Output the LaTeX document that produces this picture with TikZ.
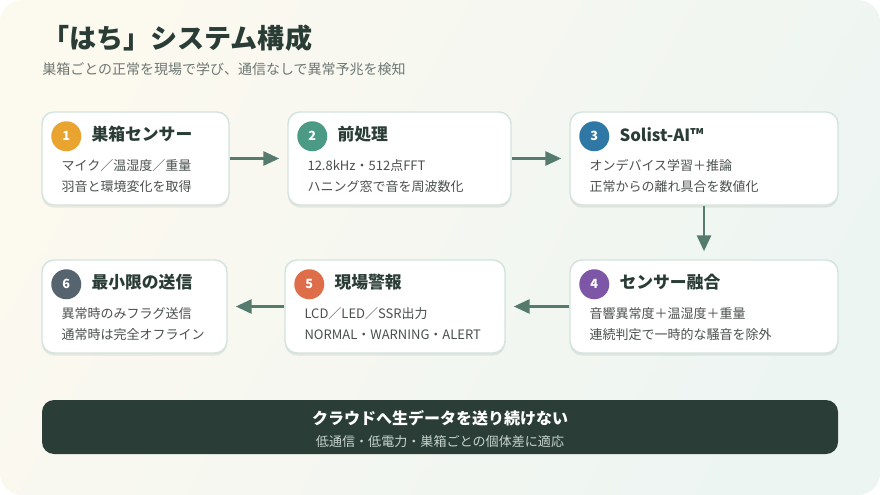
\documentclass[tikz,border=0pt]{standalone}
\usepackage{fontspec}
\setmainfont{Noto Sans CJK JP}
\usetikzlibrary{calc,shadows,arrows.meta}
\definecolor{bgA}{HTML}{FCF9EF}
\definecolor{bgB}{HTML}{EDF5F2}
\definecolor{cardline}{HTML}{D3E3DD}
\definecolor{titlecol}{HTML}{2A3C36}
\definecolor{subcol}{HTML}{6E7773}
\definecolor{bodycol}{HTML}{4A504D}
\definecolor{arrcol}{HTML}{557A6E}
\definecolor{bannercol}{HTML}{2A3D37}
\definecolor{bannersub}{HTML}{C8D5CF}
\definecolor{cA}{HTML}{E8A42E}
\definecolor{cB}{HTML}{4A9A86}
\definecolor{cC}{HTML}{2F78A6}
\definecolor{cD}{HTML}{7D56A8}
\definecolor{cE}{HTML}{DE6D4A}
\definecolor{cF}{HTML}{56646F}
\tikzset{
  card/.style={draw=cardline, line width=1.1pt, fill=white, rounded corners=9pt, inner sep=0pt,
    drop shadow={shadow xshift=0pt, shadow yshift=-2pt, opacity=0.07, fill=black}},
  numdot/.style={circle, inner sep=0pt, minimum size=22.5pt, text=white, font=\bfseries\fontsize{9.5pt}{10pt}\selectfont},
  head/.style={anchor=west, inner sep=0pt, text=titlecol, font=\bfseries\fontsize{12.6pt}{14pt}\selectfont},
  body/.style={anchor=west, inner sep=0pt, text=bodycol, font=\fontsize{9.75pt}{11pt}\selectfont},
  arr/.style={draw=arrcol, line width=2.2pt, -{Triangle[length=12pt,width=10.5pt]}, shorten >=6pt}
}
\begin{document}
\begin{tikzpicture}[x=0.75pt,y=-0.75pt]
\useasboundingbox (0,0) rectangle (880,495);
\shade[rounded corners=16.5pt, left color=bgA, right color=bgB, shading angle=60] (0,0) rectangle (880,495);

\node[anchor=west, inner sep=0pt, text=titlecol, font=\bfseries\fontsize{20.3pt}{22pt}\selectfont] (title) at (42,38) {「はち」システム構成};
\node[anchor=west, inner sep=0pt, text=subcol, font=\fontsize{10.5pt}{12pt}\selectfont] (subtitle) at (42,69) {巣箱ごとの正常を現場で学び、通信なしで異常予兆を検知};

% cards
\node[card, minimum width=140.25pt, minimum height=69.75pt] (b1) at (135.5,158.5) {};
\node[card, minimum width=167.25pt, minimum height=69.75pt] (b2) at (399.5,158.5) {};
\node[card, minimum width=201pt, minimum height=69.75pt] (b3) at (704,158.5) {};
\node[card, minimum width=201pt, minimum height=69.75pt] (b4) at (704,306.5) {};
\node[card, minimum width=165pt, minimum height=69.75pt] (b5) at (395,306.5) {};
\node[card, minimum width=138.75pt, minimum height=69.75pt] (b6) at (134.5,306.5) {};

% number dots
\node[numdot, fill=cA] (n1) at ($(b1.north west)+(25,25)$) {1};
\node[numdot, fill=cB] (n2) at ($(b2.north west)+(25,25)$) {2};
\node[numdot, fill=cC] (n3) at ($(b3.north west)+(25,25)$) {3};
\node[numdot, fill=cD] (n4) at ($(b4.north west)+(25,25)$) {4};
\node[numdot, fill=cE] (n5) at ($(b5.north west)+(25,25)$) {5};
\node[numdot, fill=cF] (n6) at ($(b6.north west)+(25,25)$) {6};

% headings
\node[head] (h1) at ($(b1.north west)+(50,23)$) {巣箱センサー};
\node[head] (h2) at ($(b2.north west)+(50,23)$) {前処理};
\node[head] (h3) at ($(b3.north west)+(50,23)$) {Solist-AI™};
\node[head] (h4) at ($(b4.north west)+(50,23)$) {センサー融合};
\node[head] (h5) at ($(b5.north west)+(50,23)$) {現場警報};
\node[head] (h6) at ($(b6.north west)+(50,23)$) {最小限の送信};

% body lines
\node[body] (t1a) at ($(b1.north west)+(20,54)$) {マイク／温湿度／重量};
\node[body] (t1b) at ($(b1.north west)+(20,75)$) {羽音と環境変化を取得};
\node[body] (t2a) at ($(b2.north west)+(20,54)$) {12.8kHz・512点FFT};
\node[body] (t2b) at ($(b2.north west)+(20,75)$) {ハニング窓で音を周波数化};
\node[body] (t3a) at ($(b3.north west)+(20,54)$) {オンデバイス学習＋推論};
\node[body] (t3b) at ($(b3.north west)+(20,75)$) {正常からの離れ具合を数値化};
\node[body] (t4a) at ($(b4.north west)+(20,54)$) {音響異常度＋温湿度＋重量};
\node[body] (t4b) at ($(b4.north west)+(20,75)$) {連続判定で一時的な騒音を除外};
\node[body] (t5a) at ($(b5.north west)+(20,54)$) {LCD／LED／SSR出力};
\node[body] (t5b) at ($(b5.north west)+(20,75)$) {NORMAL・WARNING・ALERT};
\node[body] (t6a) at ($(b6.north west)+(20,54)$) {異常時のみフラグ送信};
\node[body] (t6b) at ($(b6.north west)+(20,75)$) {通常時は完全オフライン};

% arrows
\draw[arr] (b1.east) -- (b2.west);
\draw[arr] (b2.east) -- (b3.west);
\draw[arr] (b3.south) -- (b4.north);
\draw[arr] (b4.west) -- (b5.east);
\draw[arr] (b5.west) -- (b6.east);

% banner
\node[fill=bannercol, rounded corners=9pt, inner sep=0pt, minimum width=597pt, minimum height=40.5pt] (banner) at (440,427) {};
\node[inner sep=0pt, text=white, font=\bfseries\fontsize{12pt}{13pt}\selectfont] (bt1) at (440,418) {クラウドへ生データを送り続けない};
\node[inner sep=0pt, text=bannersub, font=\fontsize{9.8pt}{11pt}\selectfont] (bt2) at (440,442) {低通信・低電力・巣箱ごとの個体差に適応};
\end{tikzpicture}
\end{document}
